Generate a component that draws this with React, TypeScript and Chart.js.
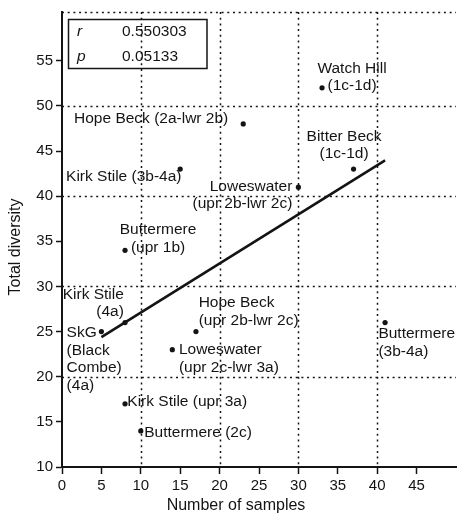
import React, { useEffect, useRef } from 'react';
import { Chart, registerables } from 'chart.js';

Chart.register(...registerables);

// ---- data ----
const siteNames = [
  'Watch Hill\n(1c-1d)',
  'Hope Beck (2a-lwr 2b)',
  'Kirk Stile (3b-4a)',
  'Loweswater\n(upr 2b-lwr 2c)',
  'Bitter Beck\n(1c-1d)',
  'Buttermere\n(upr 1b)',
  'Kirk Stile\n(4a)',
  'SkG\n(Black\nCombe)\n(4a)',
  'Hope Beck\n(upr 2b-lwr 2c)',
  'Loweswater\n(upr 2c-lwr 3a)',
  'Kirk Stile (upr 3a)',
  'Buttermere (2c)',
  'Buttermere\n(3b-4a)',
];
const sampleCounts = [33, 23, 15, 30, 37, 8, 8, 5, 17, 14, 8, 10, 41];
const totalDiversity = [52, 48, 43, 41, 43, 34, 26, 25, 25, 23, 17, 14, 26];

const fitX = [5, 41];
const fitY = [24.38, 43.96];

const xTickValues = [0, 5, 10, 15, 20, 25, 30, 35, 40, 45];
const yTickValues = [10, 15, 20, 25, 30, 35, 40, 45, 50, 55];
const xGridValues = [10, 20, 30, 40];
const yGridValues = [20, 30, 40, 50];

const statNames = ['r', 'p'];
const statValues = ['0.550303', '0.05133'];

const xTitle = 'Number of samples';
const yTitle = 'Total diversity';

// ---- label placement (pixel offsets from each point) ----
const labelLayout: { dx: number; dy: number; align: CanvasTextAlign }[] = [
  { dx: 30, dy: -19.5, align: 'center' },
  { dx: -15, dy: -5.3, align: 'right' },
  { dx: 1.3, dy: 7.9, align: 'right' },
  { dx: -6, dy: -0.9, align: 'right' },
  { dx: -9.5, dy: -32.8, align: 'center' },
  { dx: 33, dy: -20.2, align: 'center' },
  { dx: -1.2, dy: -28.3, align: 'right' },
  { dx: -34.8, dy: 1, align: 'left' },
  { dx: 2.7, dy: -29, align: 'left' },
  { dx: 6.6, dy: 0, align: 'left' },
  { dx: 2.3, dy: -2.3, align: 'left' },
  { dx: 3.4, dy: 2.2, align: 'left' },
  { dx: -6.7, dy: 11.4, align: 'left' },
];

const FONT = '"Liberation Sans", Arial, Helvetica, sans-serif';
const INK = '#141414';

const gridPlugin = {
  id: 'dottedGrid',
  beforeDatasetsDraw(chart: any) {
    const { ctx, chartArea } = chart;
    const xs = chart.scales.x;
    const ys = chart.scales.y;
    ctx.save();
    ctx.strokeStyle = INK;
    ctx.lineWidth = 1.5;
    ctx.setLineDash([2, 3.7]);
    ctx.beginPath();
    xGridValues.forEach((v) => {
      const x = Math.round(xs.getPixelForValue(v)) + 0.5;
      ctx.moveTo(x, chartArea.top);
      ctx.lineTo(x, chartArea.bottom);
    });
    yGridValues.forEach((v) => {
      const y = Math.round(ys.getPixelForValue(v)) + 0.5;
      ctx.moveTo(chartArea.left, y);
      ctx.lineTo(chartArea.right, y);
    });
    ctx.moveTo(chartArea.left, chartArea.top + 0.5);
    ctx.lineTo(chartArea.right, chartArea.top + 0.5);
    ctx.stroke();
    ctx.restore();
  },
};

const annotationPlugin = {
  id: 'annotations',
  afterDatasetsDraw(chart: any) {
    const { ctx, chartArea } = chart;
    const meta = chart.getDatasetMeta(0);
    ctx.save();
    ctx.fillStyle = INK;
    ctx.textBaseline = 'middle';
    ctx.font = `15.5px ${FONT}`;
    meta.data.forEach((pt: any, i: number) => {
      const lay = labelLayout[i];
      const lines = siteNames[i].split('\n');
      ctx.textAlign = lay.align;
      lines.forEach((line, j) => {
        ctx.fillText(line, pt.x + lay.dx, pt.y + lay.dy + j * 17.8);
      });
    });

    // stats box
    const bx = chartArea.left + 6.5;
    const by = chartArea.top + 7.5;
    ctx.strokeStyle = INK;
    ctx.lineWidth = 1.5;
    ctx.setLineDash([]);
    ctx.strokeRect(bx, by, 138.5, 49);
    ctx.textAlign = 'left';
    statNames.forEach((n, i) => {
      const y = by + 12 + i * 25;
      ctx.font = `italic 15.5px ${FONT}`;
      ctx.fillText(n, bx + 8.5, y);
      ctx.font = `15.5px ${FONT}`;
      ctx.fillText(statValues[i], bx + 53.5, y);
    });

    // axis titles
    ctx.font = `16px ${FONT}`;
    ctx.textAlign = 'center';
    ctx.fillText(xTitle, 236, 506);
    ctx.save();
    ctx.translate(16, 247);
    ctx.rotate(-Math.PI / 2);
    ctx.fillText(yTitle, 0, 0);
    ctx.restore();
    ctx.restore();
  },
};

export default function App() {
  const ref = useRef<HTMLCanvasElement>(null);

  useEffect(() => {
    document.body.style.margin = '0';
    if (!ref.current) return;
    const points = sampleCounts.map((x, i) => ({ x, y: totalDiversity[i] }));
    const fit = fitX.map((x, i) => ({ x, y: fitY[i] }));
    const chart = new Chart(ref.current, {
      type: 'scatter',
      data: {
        datasets: [
          {
            data: points,
            pointRadius: 2.6,
            pointBackgroundColor: INK,
            pointBorderWidth: 0,
            showLine: false,
          } as any,
          {
            data: fit,
            showLine: true,
            borderColor: INK,
            borderWidth: 2.6,
            pointRadius: 0,
            fill: false,
          } as any,
        ],
      },
      options: {
        responsive: false,
        animation: false,
        devicePixelRatio: 1,
        layout: { padding: { top: 11, right: 0, left: 0, bottom: 0 } },
        plugins: { legend: { display: false }, tooltip: { enabled: false } },
        scales: {
          x: {
            type: 'linear',
            min: 0,
            max: 50,
            afterBuildTicks: (s: any) => {
              s.ticks = xTickValues.map((v) => ({ value: v }));
            },
            afterFit: (s: any) => {
              s.height = 48;
            },
            grid: {
              drawOnChartArea: false,
              drawTicks: true,
              tickLength: 7,
              tickColor: INK,
              tickWidth: 1.5,
            },
            border: { display: true, color: INK, width: 2 },
            ticks: {
              color: INK,
              font: { family: FONT, size: 15 },
              padding: 3,
              maxRotation: 0,
              autoSkip: false,
            },
          },
          y: {
            type: 'linear',
            min: 10,
            max: 60.4,
            afterBuildTicks: (s: any) => {
              s.ticks = yTickValues.map((v) => ({ value: v }));
            },
            afterFit: (s: any) => {
              s.width = 62;
            },
            grid: {
              drawOnChartArea: false,
              drawTicks: true,
              tickLength: 6,
              tickColor: INK,
              tickWidth: 1.5,
            },
            border: { display: true, color: INK, width: 2 },
            ticks: {
              color: INK,
              font: { family: FONT, size: 15 },
              padding: 3,
              autoSkip: false,
            },
          },
        },
      },
      plugins: [gridPlugin, annotationPlugin],
    });
    return () => chart.destroy();
  }, []);

  return (
    <div style={{ width: 460, height: 515 }}>
      <canvas ref={ref} width={460} height={515} style={{ display: 'block' }} />
    </div>
  );
}
